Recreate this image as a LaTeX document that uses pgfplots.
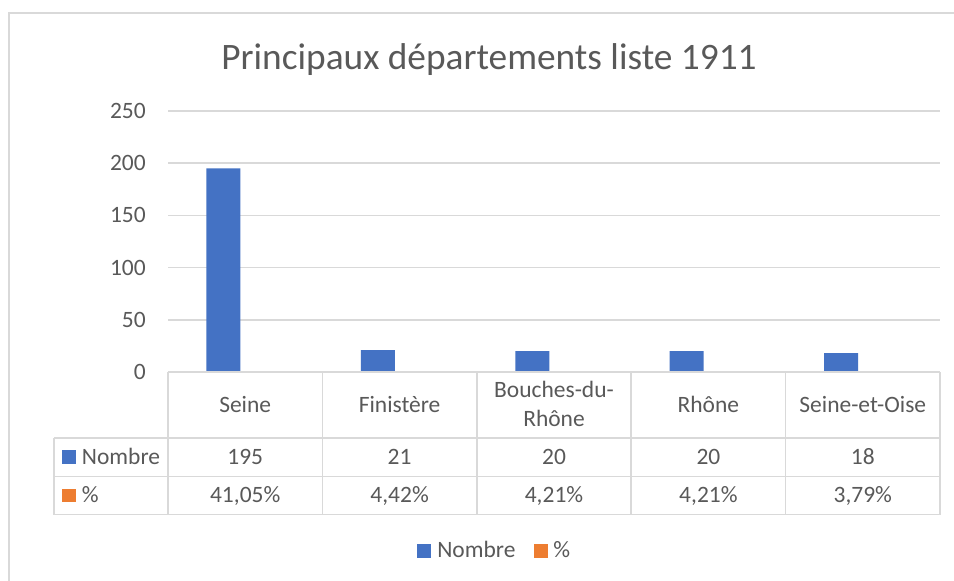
\documentclass[border=0pt]{standalone}
\usepackage{pgfplots}
\pgfplotsset{compat=1.18}
\usepackage{fontspec}
\setmainfont{Carlito}
\definecolor{txt}{HTML}{595959}
\definecolor{gridc}{HTML}{D9D9D9}
\definecolor{blue1}{HTML}{4472C4}
\definecolor{orange1}{HTML}{ED7D31}
\begin{document}
\begin{tikzpicture}
\begin{scope}[x=0.75pt,y=-0.75pt]
\path[fill=white, use as bounding box] (0,0) rectangle (954,581);
\draw[gridc, line width=1.5pt] (9,581) -- (9,13) -- (954,13);
\node[txt, font=\fontsize{28}{34}\selectfont, anchor=base, inner sep=0pt] at (489,70) {Principaux départements liste 1911};
\end{scope}
\begin{axis}[at={(126pt,-279pt)}, anchor=south west, scale only axis,
  width=579pt, height=195.75pt,
  xmin=-0.5, xmax=4.5, ymin=0, ymax=250,
  ytick={0,50,...,250}, xtick=\empty,
  axis line style={draw=none},
  ymajorgrids, major grid style={gridc, line width=1.1pt},
  major tick length=0pt,
  /pgf/number format/assume math mode=true,
  yticklabel style={txt, font=\fontsize{17.6}{21}\selectfont, anchor=east, inner sep=0pt, xshift=-16.5pt},
  ybar, bar width=25.5pt,
  clip=false]
\addplot[fill=blue1, draw=none, bar shift=-16.3pt] coordinates {(0,195) (1,21) (2,20) (3,20) (4,18)};
\addplot[fill=orange1, draw=none, bar shift=16.3pt] coordinates {(0,0.4105) (1,0.0442) (2,0.0421) (3,0.0421) (4,0.0379)};
\end{axis}
\begin{scope}[x=0.75pt,y=-0.75pt]
\draw[gridc, line width=1.1pt] (168,372) -- (940,372);
\draw[gridc, line width=1.1pt] (54,438) -- (940,438);
\draw[gridc, line width=1.1pt] (54,476.5) -- (940,476.5);
\draw[gridc, line width=1.1pt] (54,514.5) -- (940,514.5);
\draw[gridc, line width=1.1pt] (54,438) -- (54,514.5);
\foreach \xx in {168,322.4,476.8,631.2,785.6,940} {
  \draw[gridc, line width=1.1pt] (\xx,372) -- (\xx,514.5);
}
\tikzset{t/.style={txt, font=\fontsize{17.6}{21}\selectfont, anchor=base, inner sep=0pt}}
\node[t] at (245.2,412.3) {Seine};
\node[t] at (399.6,412.3) {Finistère};
\node[t] at (554,397.3) {Bouches-du-};
\node[t] at (554,426.7) {Rhône};
\node[t] at (708.4,412.3) {Rhône};
\node[t] at (862.8,412.3) {Seine-et-Oise};
\node[t] at (245.2,464) {195};
\node[t] at (399.6,464) {21};
\node[t] at (554,464) {20};
\node[t] at (708.4,464) {20};
\node[t] at (862.8,464) {18};
\node[t] at (245.2,502.7) {41,05\%};
\node[t] at (399.6,502.7) {4,42\%};
\node[t] at (554,502.7) {4,21\%};
\node[t] at (708.4,502.7) {4,21\%};
\node[t] at (862.8,502.7) {3,79\%};
\fill[blue1] (62,450) rectangle (75.7,463.5);
\node[t, anchor=base west] at (81.7,464) {Nombre};
\fill[orange1] (62,488.5) rectangle (75.7,502);
\node[t, anchor=base west] at (81.7,502.7) {\%};
\fill[blue1] (416.7,544) rectangle (430.7,557.5);
\node[t, anchor=base west] at (437,557.5) {Nombre};
\fill[orange1] (534,544) rectangle (548,557.5);
\node[t, anchor=base west] at (553,557.5) {\%};
\end{scope}
\end{tikzpicture}
\end{document}
